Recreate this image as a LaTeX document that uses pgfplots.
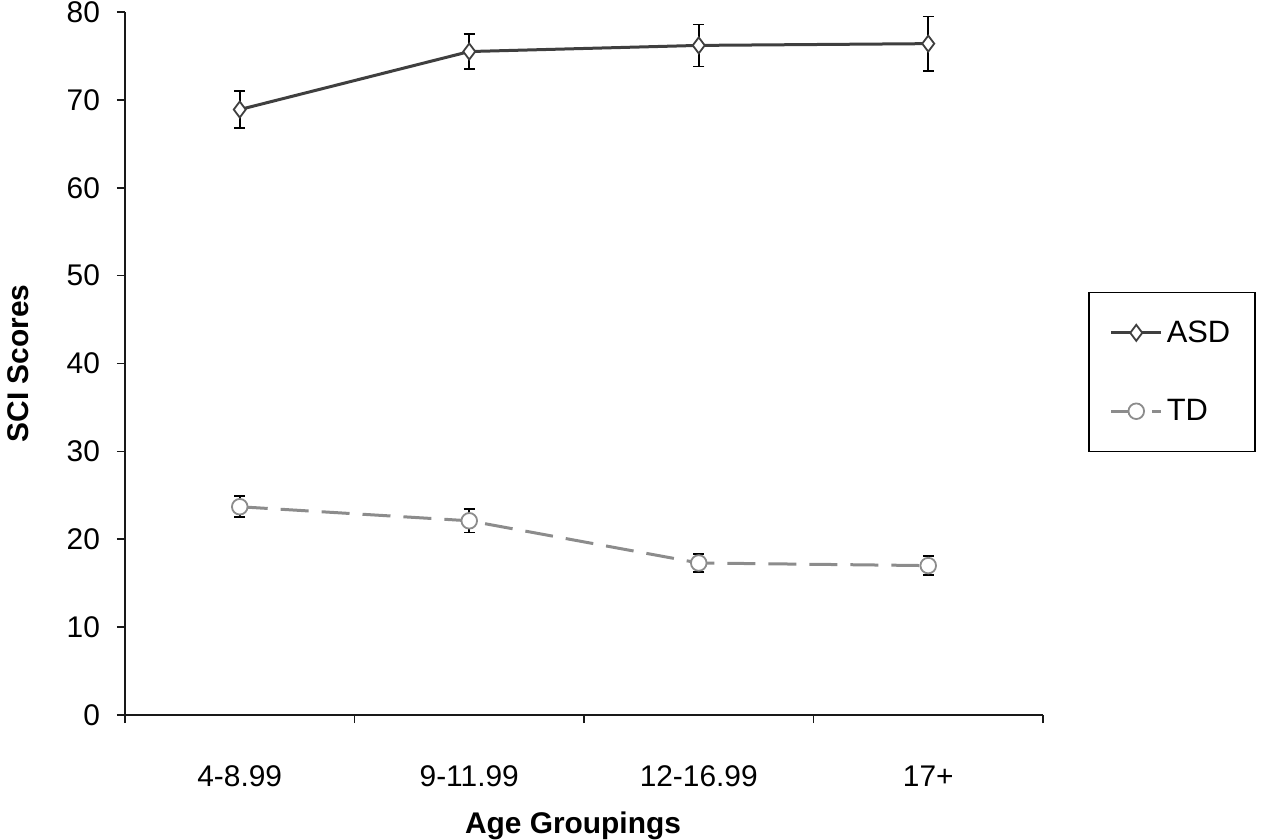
\documentclass[border=0pt]{standalone}
\usepackage{fontspec}
\setmainfont{Liberation Sans}
\usepackage{pgfplots}
\pgfplotsset{compat=1.18}
\definecolor{asdc}{HTML}{3F3F3F}
\definecolor{tdc}{HTML}{8C8C8C}
\begin{document}
\begin{tikzpicture}
\path[use as bounding box] (-62.5bp,-62.5bp) rectangle (571bp,357.5bp);
\begin{axis}[
  at={(0,0)}, anchor=south west,
  scale only axis, width=459bp, height=351.5bp,
  xmin=-0.5, xmax=3.5, ymin=0, ymax=80,
  axis x line*=bottom, axis y line*=left,
  axis line style={line width=0.8bp, black!90},
  every tick/.style={line width=0.8bp, black!90},
  tick align=outside,
  xtick={0,1,2,3},
  xticklabels={4-8.99,9-11.99,12-16.99,17+},
  major x tick style={draw=none},
  minor xtick={-0.5,0.5,1.5,2.5,3.5},
  minor tick length=4bp,
  major tick length=4bp,
  ytick={0,10,...,80},
  /pgf/number format/assume math mode=true,
  tick label style={font=\fontsize{15}{17}\selectfont},
  xticklabel style={anchor=center, yshift=-26.5bp},
  yticklabel style={anchor=east, xshift=-5bp},
  xlabel={Age Groupings},
  ylabel={SCI Scores},
  label style={font=\bfseries\fontsize{15}{17}\selectfont},
  xlabel style={at={(axis description cs:0.488,-0.158)}, anchor=center},
  ylabel style={at={(axis description cs:-0.1166,0.5)}, anchor=center},
  legend style={at={(rel axis cs:1.049,0.602)}, anchor=north west, draw=black, line width=0.8bp,
    font=\fontsize{15.5}{17}\selectfont, inner xsep=10.5bp, inner ysep=12bp, row sep=23bp},
  legend cell align=left,
  legend image code/.code={\draw[mark repeat=2,mark phase=2] plot coordinates {(0bp,0bp) (12.5bp,0bp) (25bp,0bp)};},
  error bars/y dir=both, error bars/y explicit,
  error bars/error bar style={black, line width=0.8bp, solid},
  error bars/error mark options={rotate=90, mark size=2.75bp, line width=0.8bp, black, solid},
]
\addplot[asdc, line width=1.5bp, mark=diamond*, mark size=4bp,
  mark options={fill=white, draw=asdc, line width=0.9bp, solid}]
  coordinates {(0,68.9) +- (0,2.1) (1,75.5) +- (0,2.0) (2,76.2) +- (0,2.4) (3,76.4) +- (0,3.1)};
\addlegendentry{ASD}
\addplot[tdc, line width=1.5bp, dash pattern=on 14bp off 6.5bp, mark=*, mark size=3.9bp,
  mark options={fill=white, draw=tdc, line width=0.9bp, solid}]
  coordinates {(0,23.7) +- (0,1.2) (1,22.1) +- (0,1.35) (2,17.3) +- (0,1.0) (3,17.0) +- (0,1.1)};
\addlegendentry{TD}
\end{axis}
\end{tikzpicture}
\end{document}
